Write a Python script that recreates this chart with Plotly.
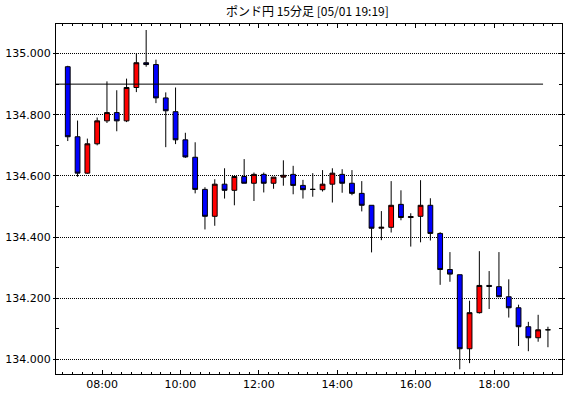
import plotly.graph_objects as go
import pandas as pd

title = "ポンド円 15分足 [05/01 19:19]"
times = pd.date_range("2019-05-01 07:00", "2019-05-01 19:15", freq="15min")

opens = [134.957, 134.728, 134.609, 134.705, 134.780, 134.807, 134.780, 134.889, 134.970, 134.964,
         134.855, 134.810, 134.718, 134.661, 134.556, 134.468, 134.573, 134.553, 134.598, 134.576,
         134.605, 134.576, 134.596, 134.605, 134.569, 134.556, 134.555, 134.573, 134.605, 134.576,
         134.543, 134.504, 134.429, 134.432, 134.507, 134.464, 134.468, 134.504, 134.412, 134.294,
         134.277, 134.035, 134.153, 134.242, 134.238, 134.205, 134.169, 134.107, 134.071, 134.097]
highs = [134.960, 134.781, 134.722, 134.791, 134.909, 134.880, 134.918, 135.000, 135.077, 134.980,
         134.873, 134.889, 134.741, 134.710, 134.563, 134.589, 134.625, 134.600, 134.655, 134.611,
         134.611, 134.596, 134.651, 134.633, 134.587, 134.609, 134.619, 134.625, 134.622, 134.619,
         134.583, 134.504, 134.485, 134.583, 134.553, 134.478, 134.586, 134.527, 134.416, 134.351,
         134.277, 134.192, 134.354, 134.289, 134.351, 134.262, 134.179, 134.123, 134.146, 134.107]
lows = [134.714, 134.597, 134.607, 134.700, 134.773, 134.746, 134.776, 134.874, 134.957, 134.838,
        134.694, 134.704, 134.659, 134.543, 134.425, 134.437, 134.526, 134.504, 134.576, 134.518,
        134.546, 134.558, 134.568, 134.540, 134.526, 134.532, 134.549, 134.513, 134.545, 134.537,
        134.484, 134.350, 134.390, 134.415, 134.455, 134.369, 134.383, 134.389, 134.244, 134.254,
        133.968, 133.988, 134.150, 134.165, 134.205, 134.137, 134.044, 134.027, 134.058, 134.040]
closes = [134.728, 134.609, 134.705, 134.780, 134.807, 134.780, 134.889, 134.970, 134.964, 134.855,
          134.813, 134.718, 134.662, 134.556, 134.468, 134.573, 134.553, 134.598, 134.576, 134.605,
          134.576, 134.596, 134.602, 134.569, 134.555, 134.556, 134.573, 134.609, 134.576, 134.543,
          134.504, 134.429, 134.432, 134.504, 134.464, 134.467, 134.504, 134.412, 134.294, 134.279,
          134.035, 134.153, 134.242, 134.239, 134.205, 134.169, 134.107, 134.071, 134.097, 134.097]

ref_level = 134.900
ref_start = "2019-05-01 06:49:30"
ref_end = "2019-05-01 19:15"

fig = go.Figure(go.Candlestick(
    x=times, open=opens, high=highs, low=lows, close=closes,
    xperiod=15 * 60 * 1000, xperiodalignment="middle",
    increasing=dict(line=dict(color="black", width=1), fillcolor="#ff0000"),
    decreasing=dict(line=dict(color="black", width=1), fillcolor="#0000ff"),
    whiskerwidth=0, hoverinfo="skip",
))

fig.add_shape(type="line", xref="x", yref="y", x0=ref_start, x1=ref_end,
              y0=ref_level, y1=ref_level, line=dict(color="black", width=1))

font = dict(family="DejaVu Sans", size=11, color="black")
fig.update_layout(
    width=570, height=398,
    margin=dict(l=49, r=5, t=24, b=24),
    paper_bgcolor="white", plot_bgcolor="white",
    showlegend=False,
    title=dict(text=title, x=0.5393, xanchor="center", y=0.97, yanchor="middle",
               font=dict(family="Noto Sans CJK JP", size=12, color="black")),
    font=font,
    xaxis=dict(
        type="date", rangeslider=dict(visible=False),
        range=["2019-05-01 06:49:30", "2019-05-01 19:44"],
        tick0="2019-05-01 08:00", dtick=2 * 3600 * 1000, tickformat="%H:%M",
        ticks="inside", ticklen=4, tickcolor="black",
        minor=dict(dtick=15 * 60 * 1000, ticks="inside", ticklen=2, tickcolor="black", showgrid=False),
        showgrid=False, showline=True, linecolor="black", linewidth=1, mirror="allticks",
        zeroline=False, tickfont=font,
    ),
    yaxis=dict(
        range=[133.9525, 135.0966], tick0=134, dtick=0.2, tickformat=".3f",
        ticks="outside", ticklen=2, tickcolor="black",
        minor=dict(dtick=0.1, ticks="inside", ticklen=3, tickcolor="black", showgrid=False),
        showgrid=True, gridcolor="black", griddash="1px,1px", gridwidth=1,
        showline=True, linecolor="black", linewidth=1, mirror="allticks",
        zeroline=False, tickfont=font,
    ),
)

fig.write_html("out.html")
